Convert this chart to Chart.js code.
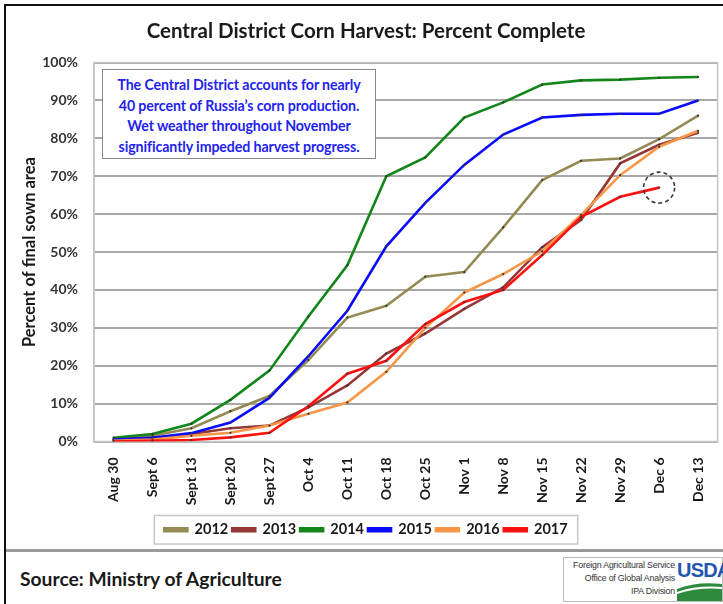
<!DOCTYPE html>
<html>
<head>
<meta charset="utf-8">
<script src="https://cdn.jsdelivr.net/npm/chart.js@4.4.1/dist/chart.umd.min.js"></script>
<style>
  html, body { margin: 0; padding: 0; background: #fff; }
  #wrap { position: relative; width: 723px; height: 604px; overflow: hidden; font-family: Lato, "Open Sans", sans-serif; }
  #c { position: absolute; left: 0; top: 0; }
  .frameL { position: absolute; left: 4px; top: 4px; width: 2px; height: 600px; background: #111; }
  .frameT { position: absolute; left: 4px; top: 4px; width: 719px; height: 2px; background: #111; }
  .sep { position: absolute; left: 6px; top: 549px; width: 717px; height: 3px; background: #9a9a9a; }
  #note { position: absolute; left: 102px; top: 69px; width: 274px; height: 90px; border: 1px solid #8a8a8a; background: #fff;
          color: #2323f0; font: bold 14.2px Lato, sans-serif; text-align: center; line-height: 20.5px; box-sizing: border-box; padding-top: 5px; white-space: nowrap; letter-spacing: -0.1px; }
  #source { position: absolute; left: 20px; top: 567px; font: bold 19.3px Lato, sans-serif; color: #1a1a1a; white-space: nowrap; }
  #logo { position: absolute; left: 563px; top: 557px; width: 160px; height: 45px; border: 1px solid #bbb; box-sizing: border-box; background: #fff; }
  #logo .t { position: absolute; right: 47px; font: 8.8px "Liberation Sans Narrow", "Liberation Sans", sans-serif; color: #333; white-space: nowrap; letter-spacing: -0.2px; }
  #logo .usda { position: absolute; left: 113px; top: 1px; font: bold 20px "Liberation Sans Narrow", "Liberation Sans", sans-serif; color: #1f56b0; letter-spacing: -0.8px; }
</style>
</head>
<body>
<div id="wrap">
  <canvas id="c" width="723" height="548"></canvas>
  <div class="frameL"></div>
  <div class="frameT"></div>
  <div class="sep"></div>
  <div id="note">The Central District accounts for nearly<br>40 percent of Russia’s corn production.<br>Wet weather throughout November<br>significantly impeded harvest progress.</div>
  <div id="source">Source: Ministry of Agriculture</div>
  <div id="logo">
    <div class="t" style="top:2px">Foreign Agricultural Service</div>
    <div class="t" style="top:15px">Office of Global Analysis</div>
    <div class="t" style="top:28px">IPA Division</div>
    <div class="usda">USDA</div>
    <svg style="position:absolute;left:113px;top:23px" width="45" height="20" viewBox="0 0 45 20">
      <path d="M0 8 Q20 0 45 3 L45 6 Q20 4 0 11 Z" fill="#2e8b3e"/>
      <path d="M0 13 Q22 6 45 8 L45 20 L0 20 Z" fill="#2e8b3e"/>
    </svg>
  </div>
</div>
<script>
const categories = ['Aug 30','Sept 6','Sept 13','Sept 20','Sept 27','Oct 4','Oct 11','Oct 18','Oct 25','Nov 1','Nov 8','Nov 15','Nov 22','Nov 29','Dec 6','Dec 13'];
const seriesNames = ['2012','2013','2014','2015','2016','2017'];
const y2012 = [0.5, 1.5, 3.5, 8, 12, 21.5, 32.7, 35.8, 43.5, 44.7, 56.5, 69, 74.1, 74.7, 79.8, 86];
const y2013 = [0.5, 1, 2, 3.5, 4.2, 9, 14.8, 23.2, 28.5, 35, 40.7, 51.3, 58.5, 73.4, 78.3, 81.5];
const y2014 = [1, 2, 4.7, 11, 18.7, 33, 46.5, 70, 75, 85.5, 89.5, 94.2, 95.3, 95.5, 96, 96.2];
const y2015 = [0.5, 1, 2.2, 5, 11.5, 22.5, 34.5, 51.5, 63, 73, 81, 85.5, 86.2, 86.5, 86.5, 90];
const y2016 = [0.2, 0.5, 1.5, 2.3, 4.2, 7.3, 10.3, 18.4, 30, 39.3, 44.2, 50.2, 59.8, 70.3, 77.8, 82];
const y2017 = [0, 0.2, 0.4, 1.1, 2.3, 9.3, 17.9, 21.3, 31, 36.8, 40, 49.2, 59.3, 64.6, 67, null];
const yTicks = [0,10,20,30,40,50,60,70,80,90,100];
const colors = ['#948a54','#953735','#12861a','#0a0aff','#f79646','#ff1010'];
const allSeries = [y2012, y2013, y2014, y2015, y2016, y2017];

const datasets = allSeries.map((d, i) => ({
  label: seriesNames[i],
  data: d,
  borderColor: colors[i],
  backgroundColor: colors[i],
  borderWidth: 2.6,
  pointRadius: 1.1,
  pointBackgroundColor: '#333',
  pointBorderWidth: 0,
  pointHoverRadius: 0,
  tension: 0,
  spanGaps: false,
  order: 6 - i
}));

const extras = {
  id: 'extras',
  beforeDatasetsDraw(chart) {
    const {ctx, chartArea: a} = chart;
    ctx.save();
    ctx.strokeStyle = '#c4c4c4';
    ctx.lineWidth = 1.5;
    ctx.strokeRect(a.left, a.top, a.right - a.left, a.bottom - a.top);
    ctx.restore();
  },
  afterDatasetsDraw(chart) {
    const meta = chart.getDatasetMeta(5);
    const p = meta.data[14];
    const ctx = chart.ctx;
    ctx.save();
    ctx.strokeStyle = '#3a3a3a';
    ctx.lineWidth = 1.6;
    ctx.setLineDash([4, 3]);
    ctx.beginPath();
    ctx.arc(p.x, p.y, 15.5, 0, Math.PI * 2);
    ctx.stroke();
    ctx.restore();
  },
  afterDraw(chart) {
    const boxes = chart.legend && chart.legend.legendHitBoxes;
    if (!boxes || !boxes.length) return;
    let l = Infinity, r = -Infinity, t = Infinity, b = -Infinity;
    boxes.forEach(h => { l = Math.min(l, h.left); r = Math.max(r, h.left + h.width); t = Math.min(t, h.top); b = Math.max(b, h.top + h.height); });
    const ctx = chart.ctx;
    ctx.save();
    ctx.strokeStyle = '#c8c8c8';
    ctx.lineWidth = 1.5;
    ctx.strokeRect(l - 10, t - 7, r - l + 20, b - t + 14);
    ctx.restore();
  }
};

new Chart(document.getElementById('c'), {
  type: 'line',
  data: { labels: categories, datasets },
  options: {
    responsive: false,
    animation: false,
    events: [],
    layout: { padding: { left: 12, right: 3, top: 8, bottom: 1 } },
    plugins: {
      title: {
        display: true,
        text: 'Central District Corn Harvest: Percent Complete',
        font: { family: 'Lato', size: 20.5, weight: 'bold' },
        color: '#1a1a1a',
        padding: { top: 11, bottom: 19 }
      },
      legend: {
        position: 'bottom',
        labels: {
          boxWidth: 23,
          boxHeight: 3,
          padding: 4,
          font: { family: 'Lato', size: 14.5, weight: 'bold' },
          color: '#1a1a1a',
          sort: (a, b) => a.datasetIndex - b.datasetIndex
        }
      },
      tooltip: { enabled: false }
    },
    scales: {
      x: {
        type: 'category',
        offset: true,
        grid: { display: false },
        border: { display: true, color: '#c4c4c4', width: 1.5 },
        ticks: {
          maxRotation: 90, minRotation: 90, autoSkip: false, padding: 8,
          font: { family: 'Lato', size: 14, weight: 'bold' }, color: '#1a1a1a'
        },
        afterFit(s) { s.height = 77; }
      },
      y: {
        min: 0, max: 100,
        afterBuildTicks(s) { s.ticks = yTicks.map(v => ({ value: v })); },
        grid: { color: '#a8a8a8', lineWidth: 2, drawTicks: false },
        border: { display: true, color: '#c4c4c4', width: 1.5 },
        ticks: {
          padding: 16,
          font: { family: 'Lato', size: 14, weight: 'bold' }, color: '#333',
          callback: v => v + '%'
        },
        title: {
          display: true,
          text: 'Percent of final sown area',
          font: { family: 'Lato', size: 16.5, weight: 'bold' }, color: '#1a1a1a',
          padding: { top: 8, bottom: 0 }
        },
        afterFit(s) { s.width = 82; }
      }
    }
  },
  plugins: [extras]
});
</script>
</body>
</html>
